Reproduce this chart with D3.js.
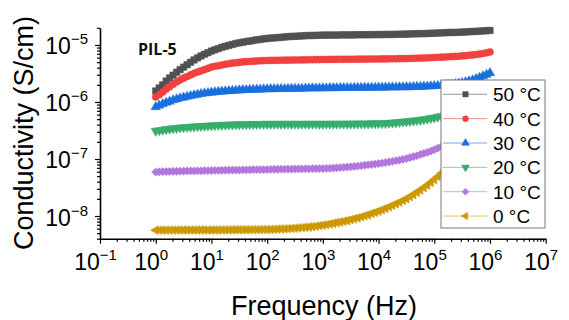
<!DOCTYPE html>
<html><head><meta charset="utf-8">
<script src="https://cdn.jsdelivr.net/npm/d3@7/dist/d3.min.js"></script>
<style>body{margin:0;background:#fff}svg{display:block}</style>
</head><body>
<svg id="c" width="569" height="320"></svg>
<script>
// Frequency (Hz)
const freq = [1,1.155,1.334,1.540,1.778,2.054,2.371,2.738,3.162,3.652,4.217,4.870,5.623,6.494,7.499,8.660,
10,11.55,13.34,15.40,17.78,20.54,23.71,27.38,31.62,36.52,42.17,48.70,56.23,64.94,74.99,86.60,
100,115.5,133.4,154.0,177.8,205.4,237.1,273.8,316.2,365.2,421.7,487.0,562.3,649.4,749.9,866.0,
1000,1155,1334,1540,1778,2054,2371,2738,3162,3652,4217,4870,5623,6494,7499,8660,
1e4,1.155e4,1.334e4,1.540e4,1.778e4,2.054e4,2.371e4,2.738e4,3.162e4,3.652e4,4.217e4,4.870e4,5.623e4,6.494e4,7.499e4,8.660e4,
1e5,1.155e5,1.334e5,1.540e5,1.778e5,2.054e5,2.371e5,2.738e5,3.162e5,3.652e5,4.217e5,4.870e5,5.623e5,6.494e5,7.499e5,8.660e5,1e6];
// Conductivity (S/cm)
const s50 = [1.56e-6,1.76e-6,1.99e-6,2.33e-6,2.64e-6,2.95e-6,3.32e-6,3.69e-6,4.08e-6,4.50e-6,4.97e-6,5.46e-6,5.92e-6,6.41e-6,6.87e-6,7.33e-6,
7.82e-6,8.24e-6,8.65e-6,9.12e-6,9.49e-6,9.84e-6,1.02e-5,1.06e-5,1.09e-5,1.12e-5,1.15e-5,1.17e-5,1.20e-5,1.23e-5,1.25e-5,1.28e-5,
1.30e-5,1.32e-5,1.33e-5,1.35e-5,1.36e-5,1.38e-5,1.40e-5,1.41e-5,1.42e-5,1.43e-5,1.44e-5,1.46e-5,1.46e-5,1.47e-5,1.47e-5,1.48e-5,
1.49e-5,1.49e-5,1.49e-5,1.49e-5,1.49e-5,1.50e-5,1.50e-5,1.50e-5,1.50e-5,1.50e-5,1.51e-5,1.51e-5,1.51e-5,1.51e-5,1.52e-5,1.52e-5,
1.52e-5,1.52e-5,1.53e-5,1.53e-5,1.53e-5,1.54e-5,1.54e-5,1.55e-5,1.55e-5,1.56e-5,1.57e-5,1.57e-5,1.58e-5,1.58e-5,1.59e-5,1.60e-5,
1.61e-5,1.62e-5,1.63e-5,1.64e-5,1.65e-5,1.66e-5,1.66e-5,1.67e-5,1.68e-5,1.69e-5,1.71e-5,1.72e-5,1.73e-5,1.75e-5,1.76e-5,1.78e-5,1.80e-5];
const s40 = [1.22e-6,1.34e-6,1.49e-6,1.68e-6,1.85e-6,2.05e-6,2.24e-6,2.43e-6,2.62e-6,2.79e-6,2.98e-6,3.18e-6,3.35e-6,3.52e-6,3.70e-6,3.88e-6,
4.09e-6,4.22e-6,4.32e-6,4.46e-6,4.58e-6,4.68e-6,4.80e-6,4.88e-6,4.95e-6,5.04e-6,5.10e-6,5.14e-6,5.20e-6,5.24e-6,5.28e-6,5.32e-6,
5.35e-6,5.36e-6,5.37e-6,5.38e-6,5.40e-6,5.41e-6,5.42e-6,5.43e-6,5.45e-6,5.46e-6,5.47e-6,5.48e-6,5.50e-6,5.51e-6,5.52e-6,5.54e-6,
5.57e-6,5.57e-6,5.58e-6,5.58e-6,5.59e-6,5.60e-6,5.60e-6,5.61e-6,5.62e-6,5.62e-6,5.63e-6,5.64e-6,5.64e-6,5.65e-6,5.66e-6,5.67e-6,
5.68e-6,5.69e-6,5.70e-6,5.71e-6,5.72e-6,5.74e-6,5.75e-6,5.77e-6,5.78e-6,5.80e-6,5.82e-6,5.85e-6,5.88e-6,5.91e-6,5.94e-6,5.98e-6,
6.03e-6,6.06e-6,6.11e-6,6.16e-6,6.20e-6,6.25e-6,6.30e-6,6.35e-6,6.43e-6,6.49e-6,6.60e-6,6.69e-6,6.81e-6,6.92e-6,7.09e-6,7.30e-6,7.54e-6];
const s30 = [8.17e-7,8.68e-7,9.22e-7,9.76e-7,1.02e-6,1.08e-6,1.12e-6,1.17e-6,1.20e-6,1.24e-6,1.28e-6,1.32e-6,1.35e-6,1.39e-6,1.42e-6,1.44e-6,
1.47e-6,1.49e-6,1.51e-6,1.53e-6,1.55e-6,1.56e-6,1.58e-6,1.59e-6,1.61e-6,1.62e-6,1.63e-6,1.64e-6,1.65e-6,1.66e-6,1.66e-6,1.68e-6,
1.68e-6,1.69e-6,1.69e-6,1.70e-6,1.70e-6,1.70e-6,1.71e-6,1.71e-6,1.72e-6,1.72e-6,1.72e-6,1.73e-6,1.73e-6,1.74e-6,1.74e-6,1.74e-6,
1.75e-6,1.75e-6,1.76e-6,1.76e-6,1.76e-6,1.77e-6,1.77e-6,1.77e-6,1.77e-6,1.78e-6,1.78e-6,1.78e-6,1.79e-6,1.79e-6,1.79e-6,1.79e-6,
1.80e-6,1.80e-6,1.80e-6,1.81e-6,1.81e-6,1.81e-6,1.82e-6,1.82e-6,1.83e-6,1.83e-6,1.84e-6,1.85e-6,1.85e-6,1.87e-6,1.88e-6,1.89e-6,
1.91e-6,1.92e-6,1.95e-6,1.97e-6,2.00e-6,2.03e-6,2.07e-6,2.12e-6,2.17e-6,2.24e-6,2.33e-6,2.42e-6,2.54e-6,2.68e-6,2.85e-6,3.02e-6,3.23e-6];
const s20 = [3.10e-7,3.18e-7,3.24e-7,3.32e-7,3.37e-7,3.44e-7,3.48e-7,3.54e-7,3.58e-7,3.61e-7,3.66e-7,3.69e-7,3.73e-7,3.76e-7,3.79e-7,3.82e-7,
3.85e-7,3.89e-7,3.92e-7,3.94e-7,3.96e-7,3.98e-7,4.01e-7,4.02e-7,4.03e-7,4.04e-7,4.05e-7,4.06e-7,4.07e-7,4.08e-7,4.09e-7,4.10e-7,
4.11e-7,4.10e-7,4.11e-7,4.12e-7,4.11e-7,4.11e-7,4.12e-7,4.11e-7,4.12e-7,4.11e-7,4.12e-7,4.12e-7,4.11e-7,4.12e-7,4.12e-7,4.11e-7,
4.11e-7,4.12e-7,4.12e-7,4.13e-7,4.13e-7,4.13e-7,4.14e-7,4.14e-7,4.15e-7,4.15e-7,4.16e-7,4.16e-7,4.17e-7,4.17e-7,4.18e-7,4.19e-7,
4.20e-7,4.21e-7,4.24e-7,4.27e-7,4.31e-7,4.36e-7,4.42e-7,4.49e-7,4.55e-7,4.61e-7,4.69e-7,4.76e-7,4.83e-7,4.94e-7,5.05e-7,5.19e-7,
5.32e-7,5.46e-7,5.61e-7,5.80e-7,5.99e-7,6.18e-7,6.41e-7,6.71e-7,6.98e-7,7.30e-7,7.66e-7,8.01e-7,8.37e-7,8.75e-7,9.11e-7,9.49e-7,9.80e-7];
const s10 = [5.91e-8,5.95e-8,5.99e-8,6.01e-8,6.04e-8,6.06e-8,6.08e-8,6.11e-8,6.13e-8,6.16e-8,6.17e-8,6.18e-8,6.21e-8,6.22e-8,6.24e-8,6.26e-8,
6.28e-8,6.30e-8,6.31e-8,6.33e-8,6.35e-8,6.36e-8,6.38e-8,6.40e-8,6.41e-8,6.43e-8,6.44e-8,6.46e-8,6.48e-8,6.49e-8,6.51e-8,6.52e-8,
6.54e-8,6.56e-8,6.57e-8,6.59e-8,6.61e-8,6.62e-8,6.64e-8,6.66e-8,6.68e-8,6.69e-8,6.71e-8,6.73e-8,6.74e-8,6.76e-8,6.78e-8,6.79e-8,
6.81e-8,6.84e-8,6.88e-8,6.94e-8,7.01e-8,7.08e-8,7.15e-8,7.22e-8,7.30e-8,7.42e-8,7.52e-8,7.63e-8,7.77e-8,7.90e-8,8.02e-8,8.15e-8,
8.31e-8,8.47e-8,8.66e-8,8.88e-8,9.11e-8,9.34e-8,9.58e-8,9.86e-8,1.02e-7,1.06e-7,1.10e-7,1.14e-7,1.20e-7,1.25e-7,1.31e-7,1.38e-7,
1.46e-7,1.55e-7,1.64e-7,1.74e-7,1.85e-7,1.96e-7,2.08e-7,2.21e-7,2.35e-7,2.49e-7,2.65e-7,2.82e-7,3.01e-7,3.21e-7,3.43e-7,3.67e-7,3.95e-7];
const s0 = [5.64e-9,5.64e-9,5.64e-9,5.65e-9,5.66e-9,5.66e-9,5.67e-9,5.67e-9,5.68e-9,5.68e-9,5.68e-9,5.68e-9,5.68e-9,5.68e-9,5.68e-9,5.68e-9,
5.68e-9,5.68e-9,5.69e-9,5.70e-9,5.71e-9,5.71e-9,5.73e-9,5.73e-9,5.74e-9,5.75e-9,5.75e-9,5.76e-9,5.77e-9,5.78e-9,5.78e-9,5.79e-9,
5.80e-9,5.82e-9,5.85e-9,5.88e-9,5.93e-9,5.96e-9,6.01e-9,6.07e-9,6.13e-9,6.20e-9,6.26e-9,6.34e-9,6.43e-9,6.52e-9,6.64e-9,6.77e-9,
6.92e-9,7.08e-9,7.25e-9,7.45e-9,7.68e-9,7.86e-9,8.11e-9,8.34e-9,8.63e-9,8.95e-9,9.30e-9,9.66e-9,1.01e-8,1.05e-8,1.11e-8,1.16e-8,
1.22e-8,1.29e-8,1.36e-8,1.45e-8,1.54e-8,1.64e-8,1.75e-8,1.88e-8,2.01e-8,2.19e-8,2.38e-8,2.61e-8,2.85e-8,3.15e-8,3.48e-8,3.90e-8,
4.35e-8,4.91e-8,5.59e-8,6.36e-8,7.21e-8,8.14e-8,9.11e-8,1.01e-7,1.12e-7,1.24e-7,1.38e-7,1.53e-7,1.68e-7,1.84e-7,2.01e-7,2.17e-7,2.34e-7];

const seriesNames = ["50 °C","40 °C","30 °C","20 °C","10 °C","0 °C"];
const seriesValues = [s50,s40,s30,s20,s10,s0];
const colors = ["#515151","#F14040","#1A6FDF","#37AD6B","#B177DE","#CC9900"];
const xTickExps = [-1,0,1,2,3,4,5,6,7];
const yTickExps = [-8,-7,-6,-5];
const sampleLabel = "PIL-5";
const xTitle = "Frequency (Hz)";
const yTitle = "Conductivity (S/cm)";

const svg = d3.select("#c");
const X0 = 100, X1 = 545.7, Y0 = 238.7, Y1 = 27.8;
const x = d3.scaleLog().domain([0.1, 1e7]).range([X0, X1]);
const y = d3.scaleLog().domain([4e-9, 2e-5]).range([Y0, Y1]);

function minors(lo, hi, e0, e1) {
  const out = [];
  for (let e = e0; e <= e1; e++) for (let m = 2; m <= 9; m++) {
    const v = m * Math.pow(10, e);
    if (v >= lo * 0.9999 && v <= hi * 1.0001) out.push(v);
  }
  return out;
}
const xMajor = xTickExps.map(e => Math.pow(10, e));
const yMajor = yTickExps.map(e => Math.pow(10, e));
const xMinor = minors(0.1, 1e7, -1, 6);
const yMinor = minors(4e-9, 2e-5, -9, -5);

const font = "'Liberation Sans', Arial, sans-serif";

// axes
const gx = svg.append("g").attr("transform", `translate(0,${Y0})`);
gx.call(d3.axisBottom(x).tickValues(xMajor).tickSize(5).tickSizeOuter(0).tickFormat(""));
const gxm = svg.append("g").attr("transform", `translate(0,${Y0})`);
gxm.call(d3.axisBottom(x).tickValues(xMinor).tickSize(3).tickSizeOuter(0).tickFormat(""));
gxm.select(".domain").remove();
const gy = svg.append("g").attr("transform", `translate(${X0},0)`);
gy.call(d3.axisLeft(y).tickValues(yMajor).tickSize(5).tickSizeOuter(0).tickFormat(""));
const gym = svg.append("g").attr("transform", `translate(${X0},0)`);
gym.call(d3.axisLeft(y).tickValues(yMinor).tickSize(3).tickSizeOuter(0).tickFormat(""));
gym.select(".domain").remove();
svg.selectAll(".domain").attr("stroke", "#000").attr("stroke-width", 1.6);
svg.selectAll(".tick line").attr("stroke", "#000").attr("stroke-width", 1.2);

// x tick labels
xTickExps.forEach(e => {
  const t = svg.append("text").attr("x", x(Math.pow(10, e)) - 4.5).attr("y", Y0 + 31)
    .attr("text-anchor", "middle").attr("font-family", font).attr("font-size", 23).attr("fill", "#000");
  t.append("tspan").text("10");
  t.append("tspan").attr("font-size", 15).attr("dy", -10).text(e < 0 ? "\u2212" + (-e) : String(e));
});
// y tick labels
yTickExps.forEach(e => {
  const t = svg.append("text").attr("x", X0 - 12).attr("y", y(Math.pow(10, e)) + 9.5)
    .attr("text-anchor", "end").attr("font-family", font).attr("font-size", 23).attr("fill", "#000");
  t.append("tspan").text("10");
  t.append("tspan").attr("font-size", 15).attr("dy", -10).text(e < 0 ? "\u2212" + (-e) : String(e));
});

// axis titles
svg.append("text").attr("x", 324).attr("y", 315).attr("text-anchor", "middle")
  .attr("font-family", font).attr("font-size", 27).attr("fill", "#000").text(xTitle);
svg.append("text").attr("transform", "translate(33,133) rotate(-90)").attr("text-anchor", "middle")
  .attr("font-family", font).attr("font-size", 27).attr("fill", "#000").text(yTitle);

// symbols
const symDefs = [
  {type: d3.symbolSquare, size: 42, rot: 0},
  {type: d3.symbolCircle, size: 40, rot: 0},
  {type: d3.symbolTriangle, size: 38, rot: 0},
  {type: d3.symbolTriangle, size: 38, rot: 180},
  {type: d3.symbolSquare, size: 34, rot: 45},
  {type: d3.symbolTriangle, size: 34, rot: -90}
];

const plot = svg.append("g");
seriesValues.forEach((vals, i) => {
  const pts = freq.map((f, k) => [f, vals[k]]);
  plot.append("path").datum(pts)
    .attr("d", d3.line().x(d => x(d[0])).y(d => y(d[1])))
    .attr("fill", "none").attr("stroke", colors[i]).attr("stroke-width", 1);
  const sym = d3.symbol().type(symDefs[i].type).size(symDefs[i].size);
  plot.append("g").selectAll("path").data(pts).join("path")
    .attr("d", sym)
    .attr("transform", d => `translate(${x(d[0])},${y(d[1])}) rotate(${symDefs[i].rot})`)
    .attr("fill", colors[i]).attr("stroke", colors[i]).attr("stroke-width", 0.5);
});

// sample label
svg.append("text").attr("x", 138).attr("y", 55).attr("font-family", "'Open Sans', sans-serif")
  .attr("font-weight", 700).attr("font-size", 16).attr("fill", "#111").text(sampleLabel);

// legend
const lg = svg.append("g");
lg.append("rect").attr("x", 441).attr("y", 80).attr("width", 104).attr("height", 148)
  .attr("fill", "#fff").attr("stroke", "#777").attr("stroke-width", 1);
seriesNames.forEach((name, i) => {
  const cy = 94.3 + i * 24.35;
  lg.append("line").attr("x1", 443).attr("x2", 487).attr("y1", cy).attr("y2", cy)
    .attr("stroke", colors[i]).attr("stroke-opacity", 0.6).attr("stroke-width", 1);
  lg.append("path").attr("d", d3.symbol().type(symDefs[i].type).size(symDefs[i].size * 0.7)())
    .attr("transform", `translate(465.5,${cy}) rotate(${symDefs[i].rot})`)
    .attr("fill", colors[i]).attr("stroke", colors[i]).attr("stroke-width", 0.5);
  lg.append("text").attr("x", 493).attr("y", cy + 7).attr("font-family", font)
    .attr("font-size", 19).attr("fill", "#000").text(name);
});
</script>
</body></html>
